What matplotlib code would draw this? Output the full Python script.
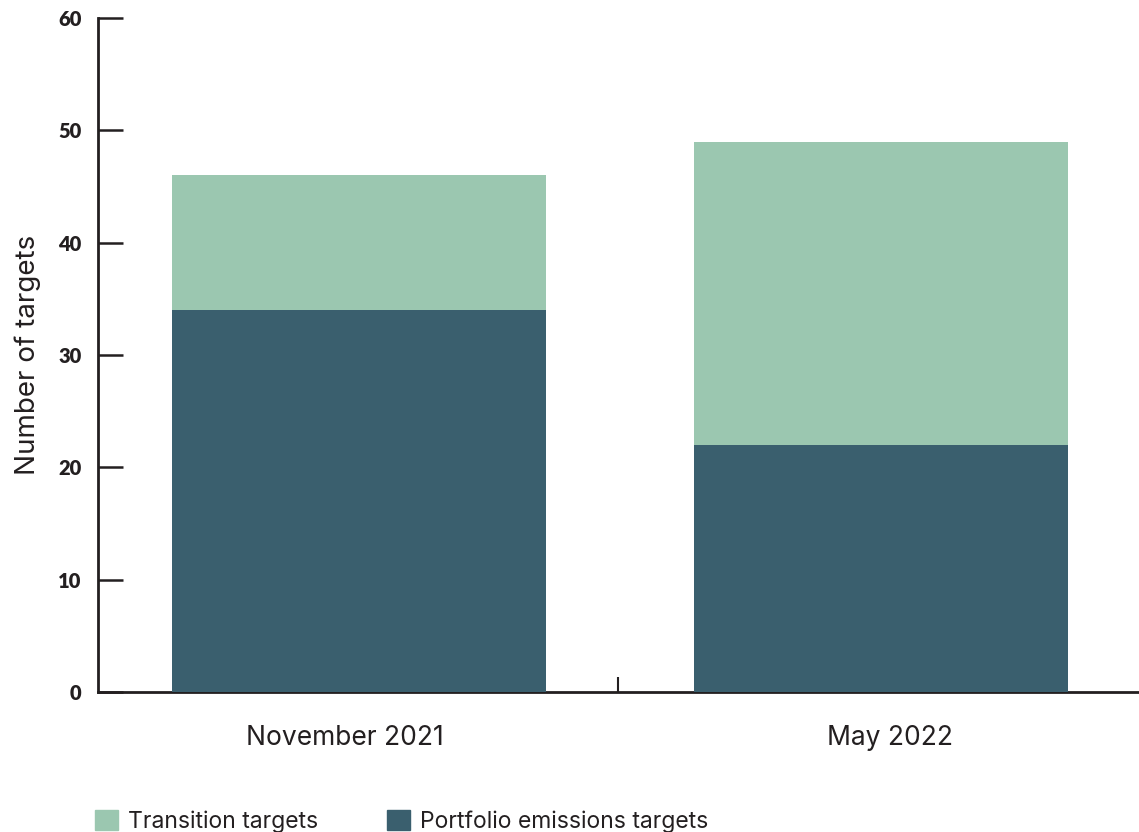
import matplotlib.pyplot as plt
from matplotlib.patches import Patch
import numpy as np

plt.rcParams['font.family'] = ['Inter', 'DejaVu Sans']

periods = ['November 2021', 'May 2022']
portfolio = [34, 22]
transition = [12, 27]
y_ticks = [0, 10, 20, 30, 40, 50, 60]

light = '#9bc7b0'
dark = '#3a5f6e'
ink = '#231f20'

fig = plt.figure(figsize=(11.39, 8.32), dpi=100)
ax = fig.add_axes([0.086, 0.1683, 0.914, 0.810])

x = np.arange(len(periods))
ax.bar(x, portfolio, width=0.716, color=dark, zorder=1)
ax.bar(x, transition, width=0.716, bottom=portfolio, color=light, zorder=1)

ax.set_xlim(-0.5, 1.494)
ax.set_ylim(0, 60)
ax.set_yticks(y_ticks, [str(v) for v in y_ticks], fontweight='heavy',
              fontsize=14.5, color=ink, family=['Lato', 'DejaVu Sans'])
# category labels sit a little off the bar centres in the original
ax.set_xticks(x + np.array([-0.027, 0.017]), periods, fontsize=19, color=ink)
ax.set_xticks([0.497], minor=True)

ax.tick_params(axis='y', direction='in', length=18, width=1.8, color=ink, pad=12)
ax.tick_params(axis='x', which='major', length=0, pad=24)
ax.tick_params(axis='x', which='minor', direction='in', length=11, width=1.5, color=ink)

for side in ['top', 'right']:
    ax.spines[side].set_visible(False)
for side in ['left', 'bottom']:
    ax.spines[side].set_linewidth(2)
    ax.spines[side].set_color(ink)
    ax.spines[side].set_zorder(0)

ax.set_ylabel('Number of targets', fontsize=20, color=ink, labelpad=12)

handles = [Patch(color=light), Patch(color=dark)]
fig.legend(handles, ['Transition targets', 'Portfolio emissions targets'],
           loc='lower left', bbox_to_anchor=(0.065, -0.026), ncol=2, frameon=False,
           fontsize=16.5, handlelength=1.0, handleheight=1.0, handletextpad=0.45,
           columnspacing=3.0, labelcolor=ink)

fig.savefig('out.png', dpi=100)
